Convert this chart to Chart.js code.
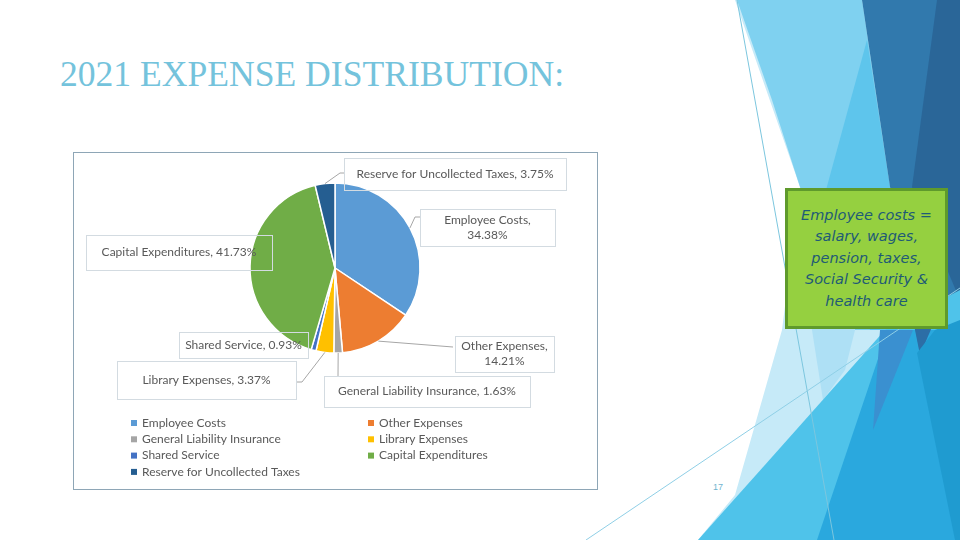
<!DOCTYPE html>
<html>
<head>
<meta charset="utf-8">
<script src="https://cdn.jsdelivr.net/npm/chart.js@4"></script>
<style>
body{margin:0;width:960px;height:540px;overflow:hidden;background:#fff;position:relative;font-family:Lato,"Noto Sans",sans-serif}
#deco{position:absolute;left:0;top:0}
#title{position:absolute;left:60px;top:52px;font-family:"Liberation Serif","Times New Roman",serif;font-size:35.6px;color:#74c3dc;white-space:nowrap;line-height:44px}
#chartBox{position:absolute;left:73px;top:152px;width:525px;height:338px;border:1px solid #8ea6b6;box-sizing:border-box;background:#fff}
#note{position:absolute;left:785px;top:188px;width:163px;height:141px;box-sizing:border-box;background:#95d040;border:3px solid #5f9a2c;display:flex;align-items:center;justify-content:center;text-align:center;font-family:"DejaVu Sans",sans-serif;font-style:italic;font-size:14.5px;line-height:21.5px;color:#1f5b76}
#pageNo{position:absolute;left:713px;top:482px;font-family:"Liberation Sans",Arial,sans-serif;font-size:9px;color:#6fb4cf}
</style>
</head>
<body>

<svg id="deco" width="960" height="540">
<polygon points="735,0 960,0 960,540 698,540 735,495 782,330 800,187" fill="#c6eaf8"/>
<polygon points="737,0 862,0 890,187 885,330 855,330 800,187 772,100" fill="#7fd1f0"/>
<polygon points="800,187 855,330 845,370 823,400 812,330" fill="#aee0f5"/>
<polygon points="867,40 826,190 870,330 895,330 890,187" fill="#5ec5ec"/>
<polygon points="862,0 960,0 960,300 935,330 890,187" fill="#3179ad"/>
<polygon points="937,0 960,0 960,300 912,187" fill="#2a6698"/>
<polygon points="698,540 885,330 960,290 960,540" fill="#4fc3ea"/>
<polygon points="880,353 913,330 960,330 960,540 817,540" fill="#2aa8de"/>
<polygon points="880,330 913,330 873,430" fill="#3a90d0"/>
<polygon points="913,320 935,320 920,355" fill="#2c6ea6"/>
<polygon points="917,353 935,330 960,320 960,540 955,540" fill="#1f9bd0"/>
<line x1="737" y1="0" x2="834" y2="540" stroke="#7cc6de" stroke-width="1"/>
<line x1="586" y1="540" x2="960" y2="288" stroke="#8fcfe6" stroke-width="1"/>
</svg>

<div id="title">2021 EXPENSE DISTRIBUTION:</div>

<div id="chartBox"><canvas id="expenseChart"></canvas></div>

<div id="note">Employee costs =<br>salary, wages,<br>pension, taxes,<br>Social Security &amp;<br>health care</div>

<div id="pageNo">17</div>

<script>

// data

const categories = ['Employee Costs','Other Expenses','General Liability Insurance','Library Expenses','Shared Service','Capital Expenditures','Reserve for Uncollected Taxes']
const shares = [34.38,14.21,1.63,3.37,0.93,41.73,3.75]
const sliceColors = ['#5b9bd5','#ed7d31','#a5a5a5','#ffc000','#4472c4','#70ad47','#255e91']


// callout boxes (canvas coords), same order as categories

const labelBoxes = [
{x:346,y:56,w:135,h:37,split:true,leader:[[341,64],[346,64]]},
{x:381,y:183,w:99,h:36,split:true,leader:[[379,194]]},
{x:250,y:223,w:206,h:31,split:false,leader:[[264,223]]},
{x:43,y:208,w:179,h:38,split:false,leader:[[228,229],[222,229]]},
{x:105,y:179,w:129,h:26,split:false,leader:null},
{x:12,y:82,w:186,h:35,split:false,leader:null},
{x:270,y:5,w:222,h:32,split:false,leader:[[266,20],[270,20]]}
]

const textFont = '12px Lato, "Noto Sans", sans-serif'
const textColor = '#595959'


// callouts + legend

const calloutPlugin = {
id:'callouts',
afterDatasetsDraw(chart){

const ctx = chart.ctx
const meta = chart.getDatasetMeta(0)

ctx.save()
ctx.font = textFont
ctx.textBaseline = 'middle'

meta.data.forEach((arc,i)=>{

const p = arc.getProps(['x','y','startAngle','endAngle','outerRadius'],true)
const mid = (p.startAngle+p.endAngle)/2
const ex = p.x+Math.cos(mid)*p.outerRadius
const ey = p.y+Math.sin(mid)*p.outerRadius
const b = labelBoxes[i]

if(b.leader){
ctx.strokeStyle = '#a6a6a6'
ctx.lineWidth = 1
ctx.beginPath()
ctx.moveTo(ex,ey)
b.leader.forEach(pt=>ctx.lineTo(pt[0],pt[1]))
ctx.stroke()
}

ctx.strokeStyle = '#d3dbe1'
ctx.lineWidth = 1
ctx.strokeRect(b.x+0.5,b.y+0.5,b.w,b.h)

const pct = shares[i].toFixed(2)+'%'
const lines = b.split ? [categories[i]+',',pct] : [categories[i]+', '+pct]

ctx.fillStyle = textColor
ctx.textAlign = 'center'
const cx = b.x+b.w/2
const top = b.y+b.h/2-(lines.length-1)*7.5
lines.forEach((t,k)=>ctx.fillText(t,cx,top+k*15))

})

// legend, two columns

const colX = [57,294]
const rowY = 270
const rowStep = 16.3

categories.forEach((name,i)=>{
const col = i%2
const row = Math.floor(i/2)
const x = colX[col]
const y = rowY+row*rowStep
ctx.fillStyle = sliceColors[i]
ctx.fillRect(x,y-3,6,6)
ctx.fillStyle = textColor
ctx.textAlign = 'left'
ctx.fillText(name,x+11,y)
})

ctx.restore()
}
}


// PIE CHART

const expenseChart = new Chart(

document.getElementById('expenseChart'),

{
type:'pie',

data:{
labels:categories,
datasets:[{
data:shares,
backgroundColor:sliceColors,
borderColor:'#ffffff',
borderWidth:1.5
}]
},

options:{
responsive:true,
maintainAspectRatio:false,
animation:false,
radius:85,
layout:{padding:{left:176,right:177,top:30,bottom:136}},
plugins:{legend:{display:false},tooltip:{enabled:false}}
},

plugins:[calloutPlugin]

}
)

</script>
</body>
</html>
